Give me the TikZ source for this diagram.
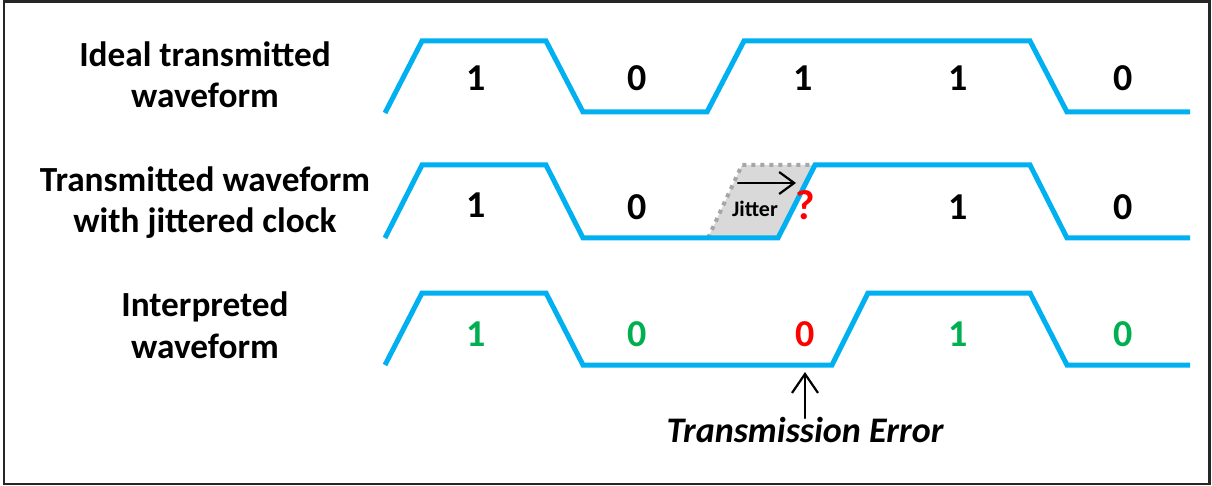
\documentclass[tikz,border=0pt]{standalone}
\usepackage{fontspec}
\setmainfont{Carlito}
\usetikzlibrary{arrows.meta}
\definecolor{wave}{HTML}{00B0F0}
\definecolor{okgreen}{HTML}{00B050}
\definecolor{errred}{HTML}{FF0000}
\definecolor{jitfill}{HTML}{D9D9D9}
\definecolor{jitdot}{HTML}{A6A6A6}
\begin{document}
\begin{tikzpicture}[x=1pt,y=-1pt,
  wavepath/.style={draw=wave, line width=5pt, line join=miter},
  rowlabel/.style={font=\fontsize{35.3}{41.5}\selectfont\bfseries, align=center, anchor=base, inner sep=0pt},
  bit/.style={font=\fontsize{38}{40}\selectfont\bfseries, anchor=base, inner sep=0pt},
  goodbit/.style={bit, text=okgreen},
  badbit/.style={bit, text=errred},
  note/.style={font=\fontsize{36}{38}\selectfont\bfseries\itshape, anchor=base, inner sep=0pt},
  pointer/.style={line width=2.2pt, line cap=round}]
  \useasboundingbox (0,0) rectangle (1212,486);
  \draw[line width=2.5pt, draw=black!85] (4,1.5) rectangle (1209.5,484);

  % row labels (anchored at the baseline of their last line)
  \node[rowlabel] (l1) at (205,108) {Ideal transmitted\\waveform};
  \node[rowlabel] (l2) at (205,233) {Transmitted waveform\\with jittered clock};
  \node[rowlabel] (l3) at (205,358) {Interpreted\\waveform};

  % jitter region
  \fill[jitfill] (708,238) -- (742,165) -- (815,165) -- (778,238) -- cycle;
  \draw[jitdot, line width=4pt, dash pattern=on 4pt off 5pt] (708,238) -- (742,165) -- (815,165);

  % waveforms
  \draw[wavepath] (385,113) -- (422,41) -- (546,41) -- (583,112) -- (707,112) -- (744,41)
                  -- (1030,41) -- (1067,112) -- (1190,112);
  \draw[wavepath] (385,238) -- (422,165) -- (546,165) -- (583,238) -- (778,238) -- (815,165)
                  -- (1030,165) -- (1067,238) -- (1190,238);
  \draw[wavepath] (385,365) -- (422,293) -- (546,293) -- (583,365) -- (832,365) -- (868,293)
                  -- (1030,293) -- (1067,365) -- (1190,365);

  % bits
  \node[bit] (a1) at (476,91) {1};
  \node[bit] (a2) at (637,91) {0};
  \node[bit] (a3) at (803,91) {1};
  \node[bit] (a4) at (958,91) {1};
  \node[bit] (a5) at (1123,91) {0};

  \node[bit] (b1) at (476,218) {1};
  \node[bit] (b2) at (637,220) {0};
  \node[bit] (b4) at (958,220) {1};
  \node[bit] (b5) at (1123,220) {0};

  \node[goodbit] (c1) at (476,346) {1};
  \node[goodbit] (c2) at (637,346) {0};
  \node[badbit]  (c3) at (805,346) {0};
  \node[goodbit] (c4) at (958,346) {1};
  \node[goodbit] (c5) at (1123,346) {0};

  % jitter annotation
  \coordinate (js) at (738,183);
  \coordinate (je) at (796,183);
  \draw[pointer, -{Straight Barb[length=15pt,width=22pt,line width=2.2pt]}] (js) -- (je);
  \node[font=\fontsize{22}{24}\selectfont\bfseries, anchor=base, inner sep=0pt] (jt) at (755,217) {Jitter};
  \node[font=\fontsize{42}{44}\selectfont\bfseries, text=errred, anchor=base, inner sep=0pt] (q) at (805,220) {?};

  % transmission error marker
  \node[note] (err) at (805,442) {Transmission Error};
  \coordinate (errtip) at (805,372);
  \draw[pointer, -{Straight Barb[length=19pt,width=26pt,line width=2.2pt]}] (err.north |- 0,418) -- (errtip);
\end{tikzpicture}
\end{document}
